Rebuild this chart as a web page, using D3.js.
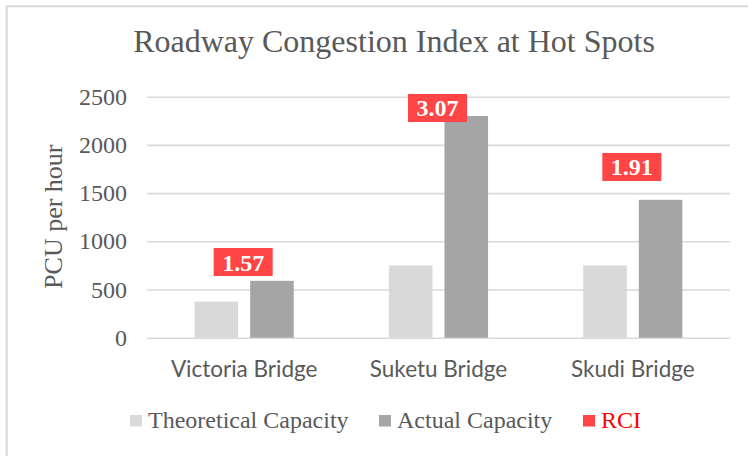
<!DOCTYPE html>
<html>
<head>
<meta charset="utf-8">
<script src="https://cdn.jsdelivr.net/npm/d3@7"></script>
<style>
    body { margin: 0; background: #fff; }
    svg { display: block; }
</style>
</head>
<body>
<svg class="RciChart" width="748" height="456"></svg>
<script>
// values
const bridges = ['Victoria Bridge', 'Suketu Bridge', 'Skudi Bridge'];
const seriesNames = ['Theoretical Capacity', 'Actual Capacity'];
const theoretical = [375, 750, 750];
const actual = [590, 2300, 1430];
const rci = [1.57, 3.07, 1.91];
// where the RCI labels sit, in PCU units (placed by hand in the original)
const rciLabelLevel = [785, 2383, 1771];
const yTicks = [0, 500, 1000, 1500, 2000, 2500];

const data = bridges.map((b, i) => ({
    bridge: b,
    'Theoretical Capacity': theoretical[i],
    'Actual Capacity': actual[i],
    rci: rci[i],
    labelAt: rciLabelLevel[i]
}));

renderRci(data);

function renderRci(data)
{
    const svg = d3.select('.RciChart');
    const grey = '#595959';
    const serif = '"Liberation Serif", "Times New Roman", serif';
    const colors = {
        'Theoretical Capacity': '#d9d9d9',
        'Actual Capacity': '#a5a5a5'
    };
    const red = '#ff4545';

    // chart frame
    svg.append('rect')
        .attr('x', 6.7)
        .attr('y', 6.3)
        .attr('width', 800)
        .attr('height', 500)
        .attr('fill', 'none')
        .attr('stroke', '#d9d9d9')
        .attr('stroke-width', 2);

    const xScale = d3.scaleBand()
        .domain(bridges)
        .range([147, 730])
        .paddingInner(0.49)
        .paddingOuter(0.245);

    const xInner = d3.scaleBand()
        .domain(seriesNames)
        .range([0, xScale.bandwidth()])
        .paddingInner(0.216)
        .paddingOuter(0);

    const yScale = d3.scaleLinear()
        .domain([0, 2500])
        .range([337.7, 96.7]);

    svg.append('text')
        .attr('x', 394)
        .attr('y', 51.7)
        .attr('text-anchor', 'middle')
        .attr('font-family', serif)
        .attr('font-size', 32)
        .attr('fill', grey)
        .text('Roadway Congestion Index at Hot Spots');

    // y axis with gridlines
    const yAxis = svg.append('g')
        .attr('class', 'y-axis')
        .attr('transform', 'translate(147,0)')
        .call(d3.axisLeft(yScale)
            .tickValues(yTicks)
            .tickFormat(d3.format('d'))
            .tickSize(-(730 - 147))
            .tickPadding(20)
        );
    yAxis.select('.domain').remove();
    yAxis.selectAll('line')
        .attr('stroke', '#d9d9d9')
        .attr('stroke-width', 1.6);
    yAxis.selectAll('text')
        .attr('font-family', serif)
        .attr('font-size', 24)
        .attr('fill', grey);

    svg.append('text')
        .attr('transform', 'rotate(-90)')
        .attr('x', -216.7)
        .attr('y', 62)
        .attr('text-anchor', 'middle')
        .attr('font-family', serif)
        .attr('font-size', 26)
        .attr('fill', grey)
        .text('PCU per hour');

    // x axis labels
    const xAxis = svg.append('g')
        .attr('class', 'x-axis')
        .attr('transform', 'translate(0,337.7)')
        .call(d3.axisBottom(xScale).tickSize(0).tickPadding(0));
    xAxis.select('.domain').remove();
    xAxis.selectAll('text')
        .attr('dy', null)
        .attr('y', 39)
        .attr('font-family', 'Lato, "Open Sans", sans-serif')
        .attr('font-size', 22.5)
        .attr('fill', grey);

    const groups = svg.selectAll('.bridge')
        .data(data)
        .enter()
        .append('g')
        .attr('class', 'bridge')
        .attr('transform', d => `translate(${xScale(d.bridge)},0)`);

    groups.selectAll('rect')
        .data(d => seriesNames.map(s => ({ key: s, value: d[s] })))
        .enter()
        .append('rect')
        .attr('x', d => xInner(d.key))
        .attr('y', d => yScale(d.value))
        .attr('width', xInner.bandwidth())
        .attr('height', d => yScale(0) - yScale(d.value))
        .attr('fill', d => colors[d.key]);

    // RCI label boxes
    const boxW = 59, boxH = 28;
    const labels = svg.selectAll('.rci-label')
        .data(data)
        .enter()
        .append('g')
        .attr('class', 'rci-label')
        .attr('transform', d => `translate(${xScale(d.bridge) + xScale.bandwidth() / 2 - 1}, ${yScale(d.labelAt)})`);

    labels.append('rect')
        .attr('x', -boxW / 2)
        .attr('y', -boxH / 2)
        .attr('width', boxW)
        .attr('height', boxH)
        .attr('fill', red);

    labels.append('text')
        .attr('text-anchor', 'middle')
        .attr('y', 8.5)
        .attr('font-family', serif)
        .attr('font-weight', 'bold')
        .attr('font-size', 24)
        .attr('fill', '#fff')
        .text(d => d.rci.toFixed(2));

    // legend
    const legendItems = [
        { name: 'Theoretical Capacity', color: colors['Theoretical Capacity'], text: grey, x: 130 },
        { name: 'Actual Capacity', color: colors['Actual Capacity'], text: grey, x: 379 },
        { name: 'RCI', color: red, text: '#ff0000', x: 583 }
    ];
    const legend = svg.selectAll('.legend')
        .data(legendItems)
        .enter()
        .append('g')
        .attr('class', 'legend')
        .attr('transform', d => `translate(${d.x}, 415)`);

    legend.append('rect')
        .attr('width', 12)
        .attr('height', 11.5)
        .attr('fill', d => d.color);

    legend.append('text')
        .attr('x', 18)
        .attr('y', 13.3)
        .attr('font-family', serif)
        .attr('font-size', 24)
        .attr('fill', d => d.text)
        .text(d => d.name);
}
</script>
</body>
</html>
